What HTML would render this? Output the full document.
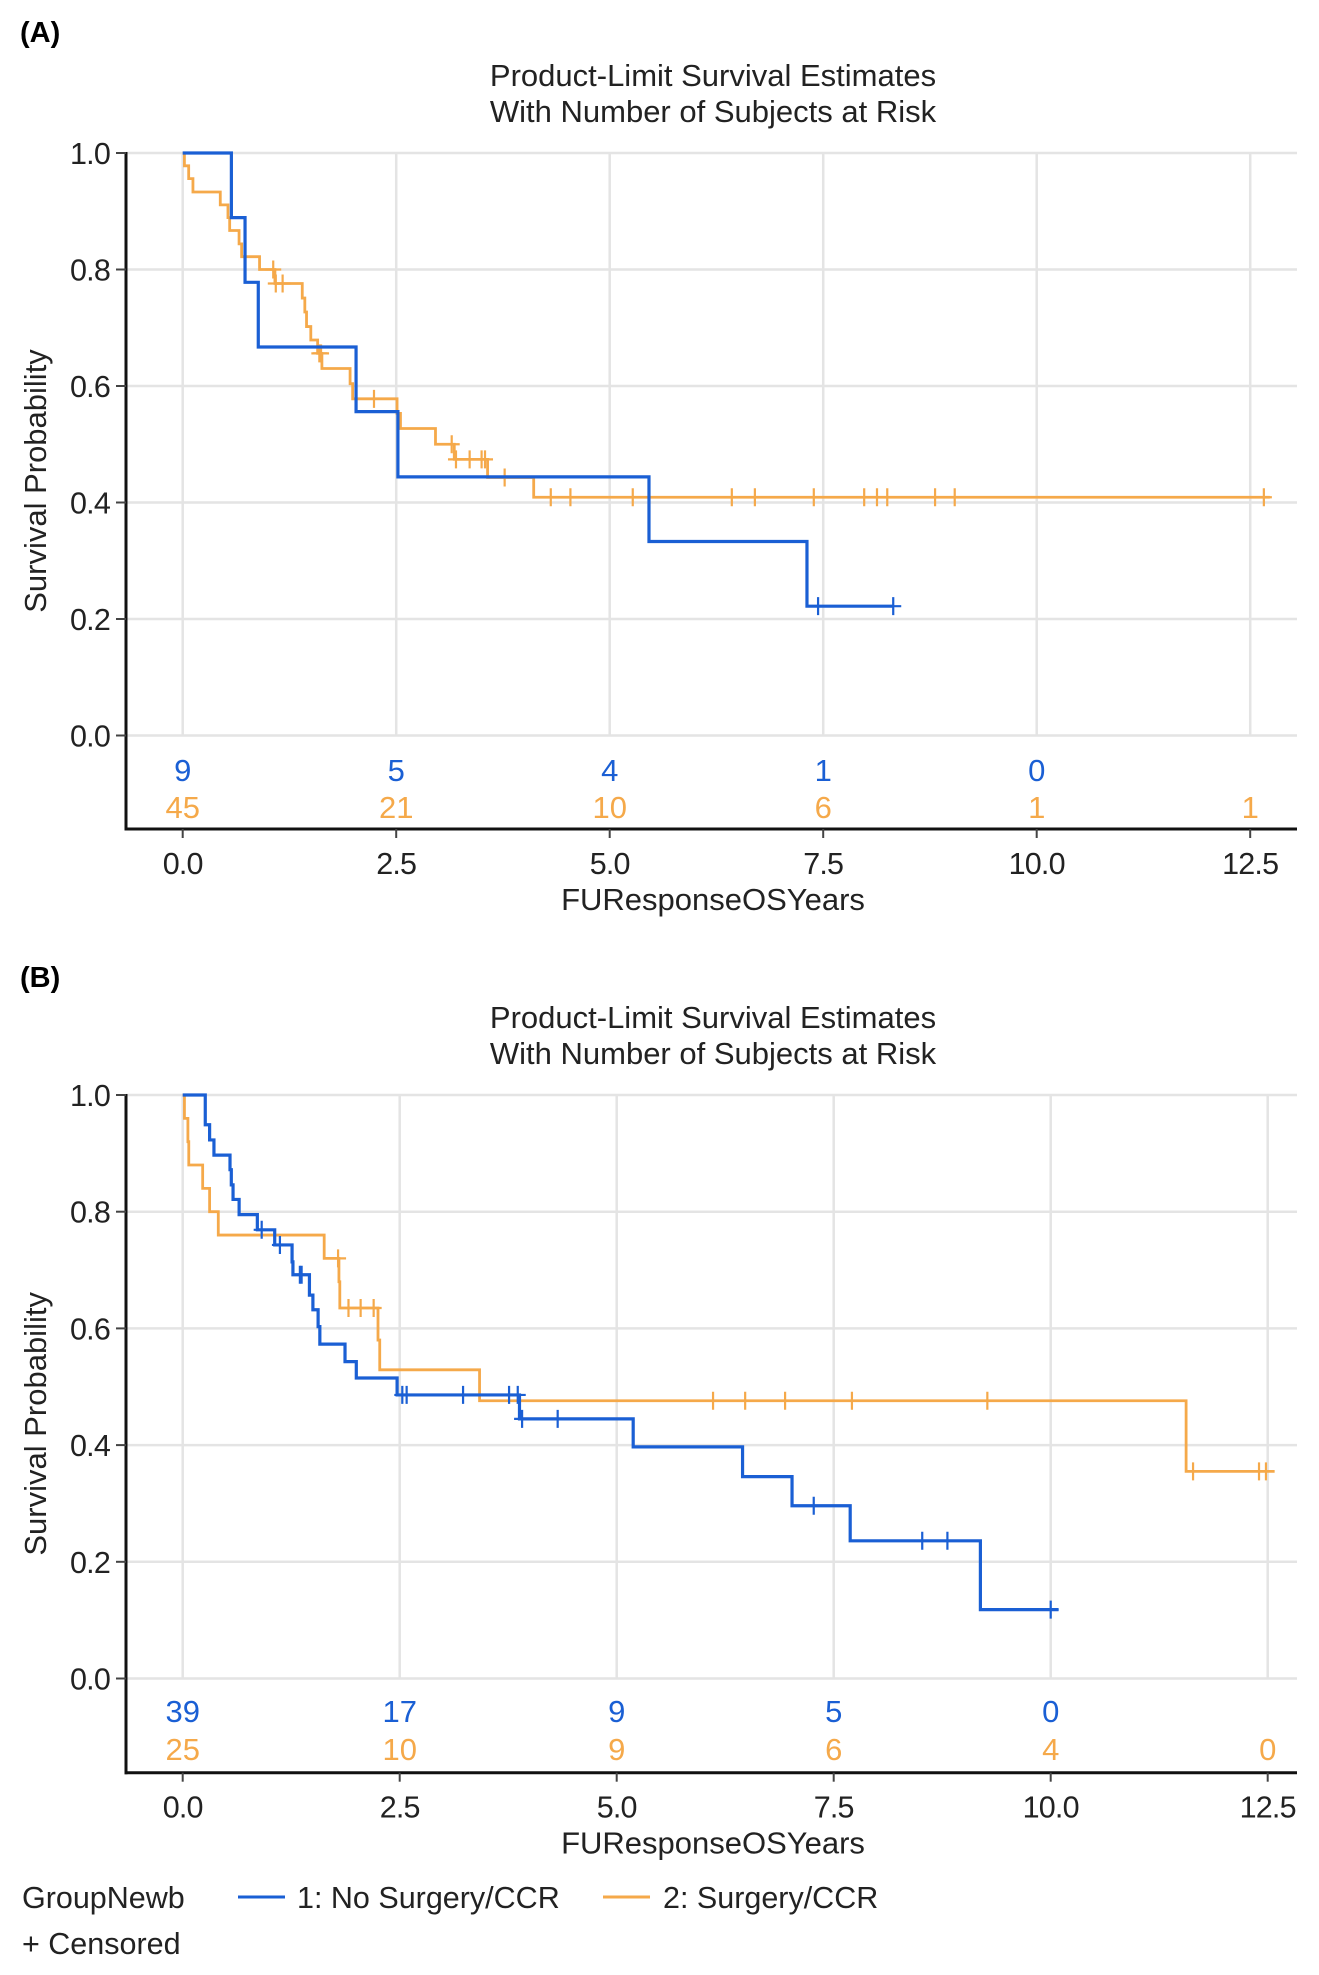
<!DOCTYPE html>
<html><head><meta charset="utf-8"><style>
html,body{margin:0;padding:0;background:#fff}
svg{display:block}
text{font-family:"Liberation Sans",sans-serif}
</style></head><body>
<svg id="fig" width="1319" height="1975" viewBox="0 0 1319 1975">
<text x="20" y="42" font-size="29" font-weight="bold">(A)</text>
<text x="20" y="987" font-size="29" font-weight="bold">(B)</text>
<g>
<text x="22" y="1908" font-size="30.5" fill="#222">GroupNewb</text>
<line x1="238" y1="1897" x2="285" y2="1897" stroke="#1a5fd4" stroke-width="3"/>
<text x="297" y="1908" font-size="30.5" fill="#222">1: No Surgery/CCR</text>
<line x1="603" y1="1897" x2="650" y2="1897" stroke="#f5a94a" stroke-width="3"/>
<text x="663" y="1908" font-size="30.5" fill="#222">2: Surgery/CCR</text>
<text x="22" y="1954" font-size="30.5" fill="#222">+ Censored</text>
</g>
</svg>
<script>
// Panel A data
const aBlueTimes = [0.57, 0.73, 0.885, 2.03, 2.52, 5.46, 7.31];
const aBlueSurv = [0.889, 0.778, 0.667, 0.556, 0.444, 0.333, 0.222];
const aBlueCens = [7.44, 8.32];
const aBlueEnd = 8.32;
const aOrTimes = [0.02,0.07,0.12,0.44,0.53,0.55,0.66,0.69,0.90,1.08,1.40,1.43,1.45,1.50,1.58,1.63,1.96,1.99,2.51,2.55,2.96,3.18,3.57,4.11];
const aOrSurv = [0.978,0.956,0.933,0.911,0.889,0.867,0.844,0.822,0.80,0.776,0.751,0.727,0.702,0.679,0.656,0.630,0.604,0.578,0.553,0.527,0.50,0.474,0.443,0.409];
const aOrCens = [1.06,1.09,1.17,1.60,1.62,2.24,3.15,3.20,3.36,3.50,3.54,3.77,4.31,4.54,5.27,6.43,6.70,7.39,7.98,8.13,8.25,8.81,9.04,12.66];
const aOrEnd = 12.73;
const aRiskBlue = [9,5,4,1,0];
const aRiskOrange = [45,21,10,6,1,1];
// Panel B data
const bBlueTimes = [0.26,0.31,0.36,0.545,0.56,0.58,0.65,0.86,1.06,1.26,1.27,1.46,1.50,1.56,1.58,1.87,2.0,2.47,3.88,5.19,6.45,7.02,7.69,9.19];
const bBlueSurv = [0.949,0.923,0.897,0.872,0.846,0.821,0.795,0.769,0.743,0.714,0.692,0.657,0.632,0.603,0.573,0.543,0.515,0.486,0.445,0.397,0.346,0.296,0.236,0.118];
const bBlueCens = [0.91,1.12,1.35,1.37,2.53,2.58,3.23,3.76,3.86,3.91,4.32,7.27,8.52,8.81,10.0];
const bBlueEnd = 10.09;
const bOrTimes = [0.02,0.06,0.07,0.23,0.31,0.41,1.63,1.80,1.81,2.25,2.27,3.42,11.56];
const bOrSurv = [0.96,0.92,0.88,0.84,0.80,0.76,0.72,0.68,0.635,0.58,0.529,0.476,0.355];
const bOrCens = [1.79,1.91,2.05,2.20,6.11,6.48,6.94,7.71,9.27,11.64,12.40,12.48];
const bOrEnd = 12.58;
const bRiskBlue = [39,17,9,5,0];
const bRiskOrange = [25,10,9,6,4,0];
const xTicks = [0,2.5,5,7.5,10,12.5];
const xTickLabels = ["0.0","2.5","5.0","7.5","10.0","12.5"];
const yTicks = [0,0.2,0.4,0.6,0.8,1.0];
const yTickLabels = ["0.0","0.2","0.4","0.6","0.8","1.0"];

const NS = "http://www.w3.org/2000/svg";
const svg = document.getElementById('fig');
const BLUE = "#1a5fd4", ORANGE = "#f5a94a";
function mk(tag, attrs, parent){const e=document.createElementNS(NS,tag);for(const k in attrs)e.setAttribute(k,attrs[k]);(parent||svg).appendChild(e);return e;}

function panel(cfg){
  const g = mk('g',{});
  
  
  const X = t => cfg.x0 + cfg.xs*t;
  const Y = s => cfg.y0 - cfg.ys*s;
  const L = 126, R = 1297, top = Y(1);
  yTicks.forEach(v=>{
    const l = mk('line',{x1:L,x2:R,y1:Y(v),y2:Y(v),stroke:"#e4e4e4","stroke-width":2.5},g);
    
    
  });
  xTicks.forEach(v=>{
    const l = mk('line',{x1:X(v),x2:X(v),y1:top,y2:Y(0),stroke:"#e4e4e4","stroke-width":2.5},g);
    
    
  });
  const ya = mk('line',{x1:L,x2:L,y1:top-1,y2:cfg.axisY+1.5,stroke:"#111","stroke-width":3},g);
  
  
  const xa = mk('line',{x1:L-1.5,x2:R,y1:cfg.axisY,y2:cfg.axisY,stroke:"#111","stroke-width":3},g);
  
  
  yTicks.forEach((v,i)=>{
    mk('line',{x1:L-10,x2:L,y1:Y(v),y2:Y(v),stroke:"#444","stroke-width":2},g);
    const t = mk('text',{x:L-16,y:Y(v)+11,"font-size":30.5,"text-anchor":"end",fill:"#222","letter-spacing":"-0.8"},g);
    t.textContent = yTickLabels[i];
    
    
  });
  xTicks.forEach((v,i)=>{
    mk('line',{x1:X(v),x2:X(v),y1:cfg.axisY,y2:cfg.axisY+9,stroke:"#444","stroke-width":2},g);
    const t = mk('text',{x:X(v),y:cfg.axisY+45,"font-size":30.5,"text-anchor":"middle",fill:"#222","letter-spacing":"-0.8"},g);
    t.textContent = xTickLabels[i];
    
    
  });
  const t1 = mk('text',{x:713,y:cfg.titleY,"font-size":31,"text-anchor":"middle",fill:"#222"},g);
  t1.textContent = "Product-Limit Survival Estimates";
  
  
  const t2 = mk('text',{x:713,y:cfg.titleY+36,"font-size":31,"text-anchor":"middle",fill:"#222"},g);
  t2.textContent = "With Number of Subjects at Risk";
  
  
  const xt = mk('text',{x:713,y:cfg.axisY+81,"font-size":31,"text-anchor":"middle",fill:"#222"},g);
  xt.textContent = "FUResponseOSYears";
  
  
  const yc = (top+cfg.axisY)/2;
  const yt = mk('text',{x:0,y:0,"font-size":31,"text-anchor":"middle",fill:"#222",transform:`translate(46,${yc-10}) rotate(-90)`},g);
  yt.textContent = "Survival Probability";
  
  
  cfg.riskBlue.forEach((v,i)=>{
    const t = mk('text',{x:X(xTicks[i]),y:cfg.riskY1+11,"font-size":31,"text-anchor":"middle",fill:BLUE},g);
    t.textContent = v;
    
    
  });
  cfg.riskOrange.forEach((v,i)=>{
    const t = mk('text',{x:X(xTicks[i]),y:cfg.riskY2+11,"font-size":31,"text-anchor":"middle",fill:ORANGE},g);
    t.textContent = v;
    
    
  });
  function curve(times,surv,cens,end,color,w,name){
    let d = `M${X(0)},${Y(1)}`;
    times.forEach((t,i)=>{ d += ` H${X(t)} V${Y(surv[i])}`; });
    d += ` H${X(end)}`;
    const p = mk('path',{d:d,fill:"none",stroke:color,"stroke-width":w},g);
    
    
    cens.forEach(c=>{
      let s=1; times.forEach((t,i)=>{ if(t<=c) s=surv[i]; });
      const m = mk('path',{d:`M${X(c)},${Y(s)-9} V${Y(s)+9} M${X(c)-8},${Y(s)} H${X(c)+8}`,stroke:color,"stroke-width":2.2,fill:"none"},g);
      
      
    });
  }
  curve(cfg.oT,cfg.oS,cfg.oC,cfg.oE,ORANGE,2.8,'curve-surgery');
  curve(cfg.bT,cfg.bS,cfg.bC,cfg.bE,BLUE,3.2,'curve-no-surgery');
}

panel({name:'panel-a',x0:182.7,xs:85.4,y0:735.5,ys:582.5,axisY:829,titleY:86,riskY1:770,riskY2:807,
  bT:aBlueTimes,bS:aBlueSurv,bC:aBlueCens,bE:aBlueEnd,oT:aOrTimes,oS:aOrSurv,oC:aOrCens,oE:aOrEnd,
  riskBlue:aRiskBlue,riskOrange:aRiskOrange});
panel({name:'panel-b',x0:182.7,xs:86.8,y0:1678.5,ys:583.5,axisY:1772.7,titleY:1028,riskY1:1711,riskY2:1749,
  bT:bBlueTimes,bS:bBlueSurv,bC:bBlueCens,bE:bBlueEnd,oT:bOrTimes,oS:bOrSurv,oC:bOrCens,oE:bOrEnd,
  riskBlue:bRiskBlue,riskOrange:bRiskOrange});
</script>
</body></html>
